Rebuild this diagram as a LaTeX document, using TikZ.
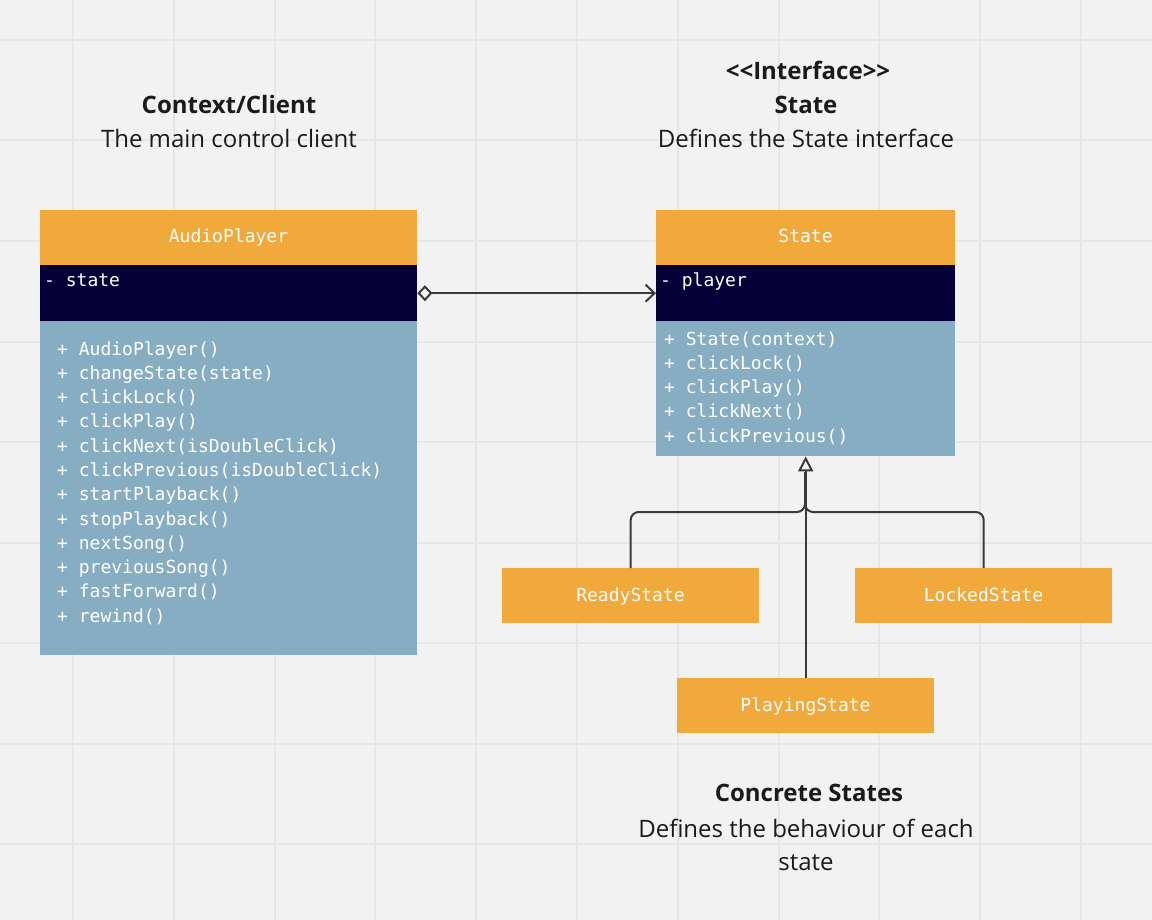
\documentclass[tikz,border=0pt]{standalone}
\usepackage{fontspec}
\setmainfont{Open Sans}
\newfontfamily\codefont{DejaVu Sans Mono}
\usetikzlibrary{arrows.meta}
\definecolor{bg}{HTML}{F2F2F2}
\definecolor{gridc}{HTML}{E6E6E6}
\definecolor{orangec}{HTML}{F2A93B}
\definecolor{navyc}{HTML}{050038}
\definecolor{bluec}{HTML}{87ADC3}
\definecolor{linec}{HTML}{3A3A3A}
\definecolor{textc}{HTML}{1A1A1A}
\tikzset{
  sect/.style={draw=none, inner sep=0pt, anchor=north west},
  hdr/.style={sect, fill=orangec},
  attr/.style={sect, fill=navyc},
  meth/.style={sect, fill=bluec},
  code/.style={font=\codefont\fontsize{18}{24.3}\selectfont, text=white, inner sep=0pt},
  heading/.style={font=\bfseries\fontsize{24}{28}\selectfont, text=textc, inner sep=0pt, anchor=base},
  sub/.style={font=\fontsize{24}{28}\selectfont, text=textc, inner sep=0pt, anchor=base},
  conn/.style={draw=linec, line width=2pt},
}
\begin{document}
\begin{tikzpicture}[x=1pt,y=-1pt]
\useasboundingbox (0,0) rectangle (1152,920);
\fill[bg] (0,0) rectangle (1152,920);
\foreach \i in {0,...,10} {
  \draw[gridc, line width=2pt] ({73+100.8*\i},0) -- ({73+100.8*\i},920);
}
\foreach \j in {0,...,8} {
  \draw[gridc, line width=2pt] (0,{40+100.5*\j}) -- (1152,{40+100.5*\j});
}

% Headings
\node[heading] (ctxT) at (229,114) {Context/Client};
\node[sub] (ctxS) at (229,148) {The main control client};
\node[heading] (ifT) at (808,80) {<{}<Interface>{}>};
\node[heading] (stT) at (806,114) {State};
\node[sub] (stS) at (806,148) {Defines the State interface};
\node[heading] (csT) at (809,801) {Concrete States};
\node[sub] (csS1) at (806,837) {Defines the behaviour of each};
\node[sub] (csS2) at (806,870) {state};

% AudioPlayer class
\node[hdr, minimum width=377pt, minimum height=55pt] (apHead) at (40,210) {};
\node[attr, minimum width=377pt, minimum height=56pt] (apAttr) at (40,265) {};
\node[meth, minimum width=377pt, minimum height=334pt] (apMeth) at (40,321) {};
\node[code, anchor=base] (apName) at (228.5,243) {AudioPlayer};
\node[code, anchor=base west] (apField) at (44,287) {- state};
\node[code, anchor=base west] (apOps) at (57,355) {\begin{tabular}[t]{@{}l@{}}
+ AudioPlayer()\\
+ changeState(state)\\
+ clickLock()\\
+ clickPlay()\\
+ clickNext(isDoubleClick)\\
+ clickPrevious(isDoubleClick)\\
+ startPlayback()\\
+ stopPlayback()\\
+ nextSong()\\
+ previousSong()\\
+ fastForward()\\
+ rewind()
\end{tabular}};

% State class
\node[hdr, minimum width=299pt, minimum height=55pt] (stHead) at (656,210) {};
\node[attr, minimum width=299pt, minimum height=56pt] (stAttr) at (656,265) {};
\node[meth, minimum width=299pt, minimum height=135pt] (stMeth) at (656,321) {};
\node[code, anchor=base] (stName) at (805.5,243) {State};
\node[code, anchor=base west] (stField) at (660,287) {- player};
\node[code, anchor=base west] (stOps) at (664,345) {\begin{tabular}[t]{@{}l@{}}
+ State(context)\\
+ clickLock()\\
+ clickPlay()\\
+ clickNext()\\
+ clickPrevious()
\end{tabular}};

% Concrete states
\node[hdr, minimum width=257pt, minimum height=55pt] (ready) at (502,568) {};
\node[hdr, minimum width=257pt, minimum height=55pt] (locked) at (855,568) {};
\node[hdr, minimum width=257pt, minimum height=55pt] (playing) at (677,678) {};
\node[code, anchor=base] (readyT) at (630.5,601) {ReadyState};
\node[code, anchor=base] (lockedT) at (983.5,601) {LockedState};
\node[code, anchor=base] (playingT) at (805.5,711) {PlayingState};

% Aggregation
\draw[conn, {Diamond[open, length=15pt, width=16pt]}-{Straight Barb[length=9pt, width=17pt]}] (apAttr.east) -- (stAttr.west);

% Inheritance
\coordinate (tri) at (805,472);
\draw[conn, rounded corners=8pt] (ready.north) |- (805,512) -- (tri);
\draw[conn, rounded corners=8pt] (locked.north) |- (805,512) -- (tri);
\draw[conn, -{Triangle[open, length=15pt, width=15pt]}] (playing.north) -- (stMeth.south);
\end{tikzpicture}
\end{document}
